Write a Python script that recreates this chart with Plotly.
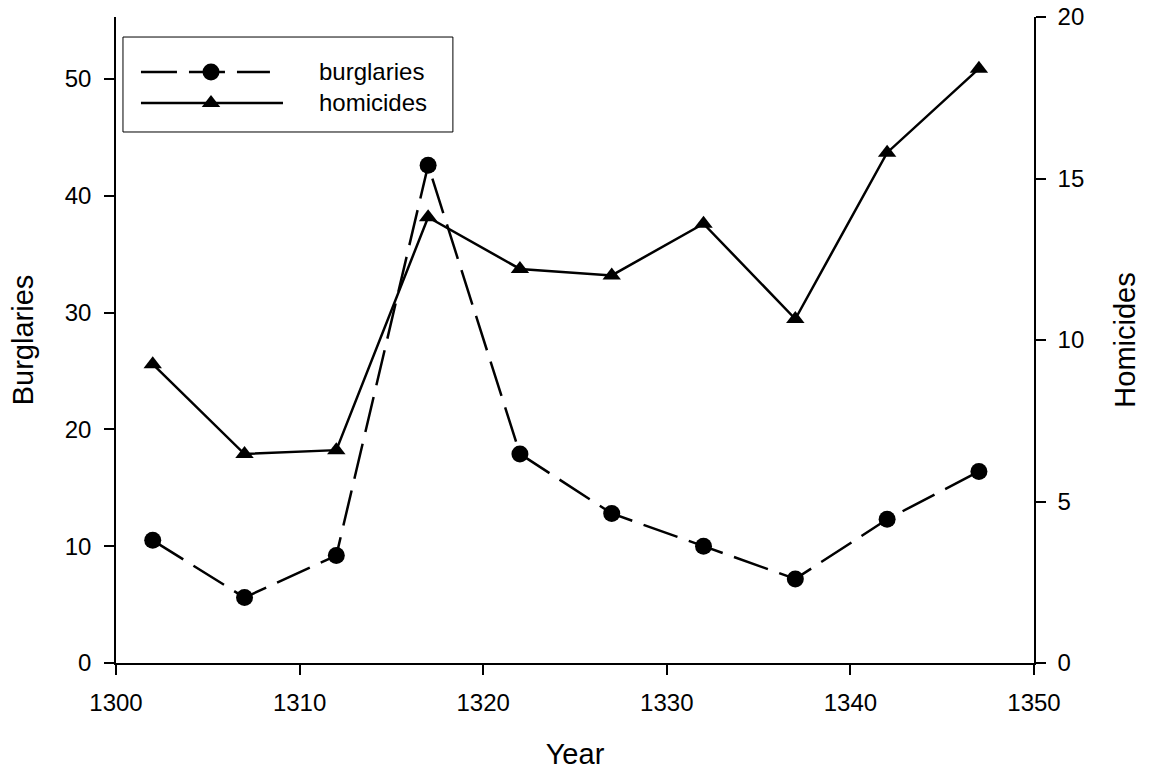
import plotly.graph_objects as go

years = [1302, 1307, 1312, 1317, 1322, 1327, 1332, 1337, 1342, 1347]
burglaries = [10.5, 5.6, 9.2, 42.6, 17.9, 12.8, 10.0, 7.2, 12.3, 16.4]
homicides = [9.25, 6.47, 6.59, 13.8, 12.2, 12.0, 13.6, 10.65, 15.8, 18.4]

series_names = ["burglaries", "homicides"]
x_ticks = [1300, 1310, 1320, 1330, 1340, 1350]
y_ticks = [0, 10, 20, 30, 40, 50]
y2_ticks = [0, 5, 10, 15, 20]

FONT = "Liberation Sans, Arial, sans-serif"
DASH = "36px,12px"

fig = go.Figure()
fig.add_trace(go.Scatter(
    x=years, y=burglaries, name=series_names[0], mode="lines+markers",
    line=dict(color="black", width=2.5, dash=DASH),
    marker=dict(symbol="circle", size=17, color="black", opacity=1),
    showlegend=False,
))
fig.add_trace(go.Scatter(
    x=years, y=homicides, name=series_names[1], mode="lines+markers", yaxis="y2",
    line=dict(color="black", width=2.5),
    marker=dict(symbol="triangle-up", size=16, color="black", opacity=1),
    showlegend=False,
))

# ---- custom legend (paper-like hidden axes) ----
lx0, lxm, ltext = 0.0272, 0.1035, 0.2185
ly = [0.9149, 0.8669]
leg_symbols = ["circle", "triangle-up"]
leg_sizes = [17, 16]
for i in range(2):
    fig.add_trace(go.Scatter(
        x=[lxm], y=[ly[i]], mode="markers", xaxis="x2", yaxis="y3",
        marker=dict(symbol=leg_symbols[i], size=leg_sizes[i], color="black", opacity=1,
                    line=dict(width=0)),
        showlegend=False, hoverinfo="skip",
    ))

shapes = [
    dict(type="rect", xref="paper", yref="paper", x0=0.0076, x1=0.367, y0=0.822, y1=0.969,
         line=dict(color="black", width=1), fillcolor="rgba(0,0,0,0)", layer="below"),
    dict(type="line", xref="paper", yref="paper", x0=lx0, x1=lx0 + 0.1405, y0=ly[0], y1=ly[0],
         line=dict(color="black", width=2.5, dash=DASH), layer="below"),
    dict(type="line", xref="paper", yref="paper", x0=lx0, x1=0.1819, y0=ly[1], y1=ly[1],
         line=dict(color="black", width=2.5), layer="below"),
]
annotations = [
    dict(xref="paper", yref="paper", x=ltext, y=ly[i], text=series_names[i], showarrow=False,
         xanchor="left", yanchor="middle", font=dict(family=FONT, size=24, color="black"))
    for i in range(2)
]

axis_common = dict(
    showline=True, linecolor="black", linewidth=1.5, ticks="outside",
    ticklen=10, tickwidth=1.5, tickcolor="black", showgrid=False, zeroline=False,
    tickfont=dict(family=FONT, size=24, color="black"), automargin=False,
)

fig.update_layout(
    width=1149, height=776,
    margin=dict(l=116, r=115, t=17, b=113),
    paper_bgcolor="white", plot_bgcolor="white",
    font=dict(family=FONT, color="black"),
    xaxis=dict(range=[1300, 1350], tickvals=x_ticks, ticklabelstandoff=7, **axis_common,
               title=dict(text="Year", font=dict(family=FONT, size=29), standoff=29)),
    yaxis=dict(range=[0, 55.3], tickvals=y_ticks, ticklabelstandoff=8, **axis_common,
               title=dict(text="Burglaries", font=dict(family=FONT, size=29), standoff=23)),
    yaxis2=dict(range=[0, 20], tickvals=y2_ticks, overlaying="y", side="right",
                ticklabelstandoff=7, **axis_common,
                title=dict(text="Homicides", font=dict(family=FONT, size=29), standoff=31)),
    xaxis2=dict(range=[0, 1], overlaying="x", visible=False, fixedrange=True),
    yaxis3=dict(range=[0, 1], overlaying="y", visible=False, fixedrange=True),
    shapes=shapes,
    annotations=annotations,
    showlegend=False,
)

fig.write_html("out.html")
